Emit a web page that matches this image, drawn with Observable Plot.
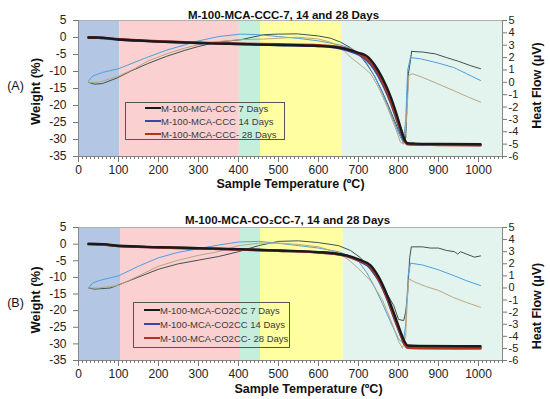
<!DOCTYPE html>
<html>
<head>
<meta charset="utf-8">
<script src="https://cdn.jsdelivr.net/npm/d3@7"></script>
<script src="https://cdn.jsdelivr.net/npm/@observablehq/plot@0.6"></script>
<style>
  html, body { margin: 0; padding: 0; background: #fff; }
  #chart { position: relative; width: 550px; height: 399px; overflow: hidden; font-family: "Liberation Sans", Arial, sans-serif; }
  #chart svg { position: absolute; left: 0; overflow: visible; }
  .legend { position: absolute; border: 1px solid #555; box-sizing: border-box; font-size: 9.5px; color: #3a3a3a; }
  .legend .row { position: absolute; white-space: nowrap; line-height: 12px; }
  .legend .sw { display: inline-block; width: 16px; height: 2px; vertical-align: middle; position: relative; top: -1px; }
</style>
</head>
<body>
<div id="chart"></div>
<script>
// ---------- data ----------
const titles = ["M-100-MCA-CCC-7, 14 and 28 Days", "M-100-MCA-CO\u2082CC-7, 14 and 28 Days"];
const panelLabels = ["(A)", "(B)"];
const legendLabelsA = ["M-100-MCA-CCC 7 Days", "M-100-MCA-CCC 14 Days", "M-100-MCA-CCC- 28 Days"];
const legendLabelsB = ["M-100-MCA-CO2CC 7 Days", "M-100-MCA-CO2CC 14 Days", "M-100-MCA-CO2CC- 28 Days"];
const xTitle = "Sample Temperature (\u00baC)";
const yTitle = "Weight (%)";
const y2Title = "Heat Flow (\u00b5V)";
const xMajorTicks = [0, 100, 200, 300, 400, 500, 600, 700, 800, 900, 1000];
const yTicks = [5, 0, -5, -10, -15, -20, -25, -30, -35];
const y2Ticks = [5, 4, 3, 2, 1, 0, -1, -2, -3, -4, -5, -6];

// temperature bands [start, end]
const bandsA = [[0, 103], [103, 402], [402, 455], [455, 660], [660, 1060]];
const bandsB = [[0, 105], [105, 405], [405, 455], [455, 662], [662, 1060]];
const bandColors = ["#b3c7e5", "#fad0d0", "#c6eedd", "#ffffa2", "#e3f4ee"];

// Panel A: weight (%)
const A_w7 = [[25,0],[50,0],[100,-0.6],[150,-0.9],[200,-1.2],[250,-1.4],[300,-1.6],[350,-1.8],[400,-1.9],[450,-2.1],[500,-2.2],[550,-2.3],[600,-2.5],[640,-2.8],[670,-3.4],[700,-4.5],[720,-5.4],[740,-8.0],[760,-12.0],[780,-17.3],[795,-22.5],[805,-26.4],[815,-29.9],[823,-31.1],[840,-31.2],[900,-31.3],[1005,-31.4]];
const A_w14 = [[25,0],[50,-0.1],[100,-0.6],[200,-1.2],[300,-1.6],[400,-1.9],[500,-2.2],[600,-2.5],[640,-2.9],[670,-3.7],[700,-5.0],[720,-6.6],[740,-9.4],[760,-13.6],[780,-19.0],[795,-24.0],[805,-27.5],[815,-30.5],[822,-31.3],[900,-31.5],[1005,-31.6]];
const A_w28 = [[25,0],[50,-0.1],[100,-0.5],[200,-1.1],[300,-1.5],[400,-1.8],[500,-2.0],[600,-2.3],[640,-2.6],[670,-3.3],[700,-4.7],[720,-6.2],[740,-8.8],[760,-13.0],[780,-18.4],[795,-23.5],[805,-27.0],[815,-30.3],[822,-31.4],[900,-31.6],[1005,-31.7]];
// Panel A: heat flow (µV)
const A_h7 = [[25,0.0],[40,-0.15],[60,-0.1],[97,0.36],[130,0.9],[172,1.5],[220,2.1],[264,2.57],[300,2.9],[347,3.25],[405,3.44],[463,3.85],[500,3.9],[547,3.92],[600,3.75],[630,3.57],[655,3.25],[680,2.8],[700,2.3],[720,1.5],[740,0.5],[760,-0.8],[780,-2.3],[800,-3.9],[812,-4.8],[818,-4.5],[824,0.5],[833,2.5],[860,2.45],[892,2.3],[920,2.0],[950,1.7],[980,1.35],[1005,1.1]];
const A_h14 = [[25,0.1],[35,0.5],[60,0.8],[100,1.1],[170,2.0],[220,2.6],[300,3.35],[350,3.7],[405,3.9],[450,3.85],[500,3.7],[550,3.55],[600,3.35],[650,3.05],[680,2.75],[700,2.35],[720,1.6],[740,0.5],[760,-0.9],[780,-2.5],[800,-4.1],[812,-4.9],[818,-3.1],[823,1.0],[830,2.0],[855,1.9],[900,1.55],[938,1.2],[970,0.7],[1005,0.15]];
const A_h28 = [[25,0.0],[50,0.0],[100,0.5],[140,1.1],[172,1.7],[220,2.3],[264,2.75],[300,3.05],[347,3.3],[405,3.45],[463,3.5],[547,3.65],[600,3.5],[630,3.25],[655,2.85],[680,2.03],[705,1.4],[730,0.7],[750,-0.4],[772,-2.0],[790,-3.5],[805,-4.85],[813,-5.0],[820,-3.0],[826,0.55],[834,0.7],[860,0.4],[897,-0.1],[940,-0.7],[975,-1.2],[1005,-1.6]];
// temperature spans where the panel A heat-flow traces are sparse (drawn dotted)
const A_dottedSpans = [[812, 833], [812, 830], null];

// Panel B: weight (%)
const B_w7 = [[25,0.1],[60,0],[100,-0.5],[200,-0.9],[300,-1.2],[400,-1.5],[450,-1.7],[500,-1.9],[550,-2.1],[600,-2.4],[640,-2.8],[670,-3.4],[700,-4.6],[730,-6.4],[750,-9.8],[772,-15.5],[790,-21.3],[805,-26.3],[815,-29.3],[823,-30.5],[850,-30.6],[1005,-30.7]];
const B_w14 = [[25,0],[60,-0.1],[100,-0.6],[200,-1.0],[300,-1.3],[400,-1.6],[500,-2.0],[600,-2.5],[640,-2.9],[670,-3.6],[700,-5.0],[730,-7.2],[750,-10.8],[772,-16.6],[790,-22.5],[805,-27.2],[815,-30.0],[823,-30.9],[850,-31.0],[1005,-31.1]];
const B_w28 = [[25,0],[60,-0.1],[100,-0.6],[200,-1.0],[300,-1.3],[400,-1.6],[500,-2.0],[600,-2.5],[640,-2.9],[670,-3.5],[700,-4.8],[730,-6.9],[750,-10.4],[772,-16.2],[790,-22.2],[805,-27.0],[815,-30.1],[823,-31.2],[850,-31.3],[1005,-31.4]];
// Panel B: heat flow (µV)
const B_h7 = [[25,0],[40,-0.1],[80,0.0],[100,0.25],[150,0.9],[200,1.55],[250,2.0],[300,2.3],[350,2.6],[400,3.0],[450,3.5],[500,3.85],[550,3.9],[600,3.75],[650,3.5],[680,3.1],[705,2.5],[730,1.5],[750,0.6],[770,-0.4],[788,-1.45],[800,-2.6],[813,-2.7],[818,-2.0],[823,-0.35],[828,2.5],[832,3.4],[860,3.4],[880,3.3],[900,3.3],[920,3.1],[940,3.0],[948,2.8],[955,3.0],[970,2.8],[990,2.55],[1005,2.65]];
const B_h14 = [[25,0],[35,0.4],[50,0.6],[100,1.0],[150,1.8],[200,2.5],[250,2.95],[300,3.25],[350,3.55],[400,3.8],[450,3.85],[500,3.7],[550,3.5],[600,3.3],[650,3.0],[680,2.6],[700,2.2],[720,1.3],[740,0.1],[760,-1.3],[780,-2.8],[800,-4.2],[812,-4.6],[818,-3.0],[824,1.0],[830,2.05],[860,1.9],[900,1.5],[940,1.0],[970,0.6],[1005,0.2]];
const B_h28 = [[25,0],[50,0],[100,0.2],[150,1.0],[200,1.8],[250,2.3],[300,2.7],[350,3.0],[400,3.5],[450,3.7],[500,3.7],[550,3.6],[600,3.4],[650,2.9],[680,2.2],[700,1.6],[730,0.6],[760,-1.0],[780,-2.6],[800,-4.4],[810,-5.0],[818,-4.0],[822,-1.0],[826,0.75],[840,0.5],[870,0.1],[900,-0.2],[938,-0.8],[970,-1.2],[1005,-1.6]];
const B_dottedSpans = [null, null, null];

const weightColors = ["#1a1a1a", "#3b46a6", "#b3331f"];
const heatColors = ["#3e5252", "#4f9fdc", "#bba684"];

// ---------- drawing ----------
const xDomain = [0, 1060];
const yDomain = [-35, 5];
const y2Domain = [-6, 5];
const toW = h => yDomain[0] + (h - y2Domain[0]) * (yDomain[1] - yDomain[0]) / (y2Domain[1] - y2Domain[0]);
const fromW = w => y2Domain[0] + (w - yDomain[0]) * (y2Domain[1] - y2Domain[0]) / (yDomain[1] - yDomain[0]);

function panel(cfg) {
  const bands = cfg.bands.map((b, i) => ({x1: b[0], x2: b[1], fill: bandColors[i]}));
  const marks = [
    Plot.rect(bands, {x1: "x1", x2: "x2", fill: "fill"}),
    Plot.ruleY([yDomain[1]], {stroke: "#b0b0b0"}),
    Plot.ruleX([xDomain[0]], {stroke: "#888"}),
    Plot.ruleX([xDomain[1]], {stroke: "#888"}),
    Plot.ruleY([yDomain[0]], {stroke: "#888"}),
    Plot.axisX(d3.range(0, 1061, 10), {anchor: "bottom", tickSize: 3, text: null, stroke: "#777"}),
    Plot.axisX(xMajorTicks, {anchor: "bottom", tickSize: 6, tickPadding: 3, stroke: "#777", fill: "#222", fontSize: 12, tickFormat: d => String(d)}),
    Plot.axisY(yTicks, {anchor: "left", tickSize: 5, tickPadding: 7, stroke: "#777", fill: "#222", fontSize: 12, tickFormat: d => String(d)}),
    Plot.axisY(y2Ticks.map(toW), {anchor: "right", tickSize: 4, tickPadding: 2, stroke: "#777", fill: "#222", fontSize: 11, tickFormat: d => String(Math.round(fromW(d)))}),
  ];
  cfg.heat.forEach((s, i) => {
    const span = cfg.dotted[i];
    const opts = {x: d => d[0], y: d => toW(d[1]), stroke: heatColors[i], strokeWidth: 1, curve: "linear"};
    if (span) {
      marks.push(Plot.line(s.filter(d => d[0] <= span[0]), opts));
      marks.push(Plot.line(s.filter(d => d[0] >= span[0] && d[0] <= span[1]), {...opts, strokeWidth: 1.2, strokeDasharray: "1.2,1.2"}));
      marks.push(Plot.line(s.filter(d => d[0] >= span[1]), opts));
    } else {
      marks.push(Plot.line(s, opts));
    }
  });
  [1, 2, 0].forEach(i => {
    marks.push(Plot.line(cfg.weight[i], {x: d => d[0], y: d => d[1], stroke: weightColors[i], strokeWidth: 2.4, curve: "monotone-x"}));
  });
  marks.push(
    Plot.text([cfg.title], {frameAnchor: "top", textAnchor: "middle", dy: cfg.titleDy, dx: cfg.titleDx, fontWeight: "bold", fontSize: 11.5, fill: "#111"}),
    Plot.text([xTitle], {frameAnchor: "bottom", textAnchor: "middle", dy: cfg.xTitleDy, dx: cfg.xTitleDx, fontWeight: "bold", fontSize: 12.5, fill: "#111"}),
    Plot.text([yTitle], {frameAnchor: "left", textAnchor: "middle", dx: -43, dy: cfg.yTitleDy, rotate: -90, fontWeight: "bold", fontSize: 13, fill: "#111"}),
    Plot.text([y2Title], {frameAnchor: "right", textAnchor: "middle", dx: 34, dy: cfg.y2TitleDy, rotate: -90, fontWeight: "bold", fontSize: 12.5, fill: "#111"}),
    Plot.text([cfg.label], {frameAnchor: "left", textAnchor: "middle", dx: -63, dy: cfg.labelDy, fontSize: 12.5, fill: "#111"})
  );
  return Plot.plot({
    width: 550,
    height: cfg.height,
    marginLeft: 78,
    marginRight: 48,
    marginTop: cfg.mt,
    marginBottom: cfg.mb,
    x: {domain: xDomain, axis: null},
    y: {domain: yDomain, axis: null},
    style: {fontFamily: "'Liberation Sans', Arial, sans-serif", fontSize: "12px", background: "transparent", overflow: "visible"},
    marks
  });
}

const chart = document.getElementById("chart");
const svgA = panel({bands: bandsA, weight: [A_w7, A_w14, A_w28], heat: [A_h7, A_h14, A_h28], dotted: A_dottedSpans, title: titles[0], label: panelLabels[0],
  height: 200, mt: 20, mb: 44, titleDy: -10, titleDx: -7, xTitleDy: 31, xTitleDx: 0, yTitleDy: 3, y2TitleDy: -3, labelDy: -3});
svgA.style.top = "0px";
chart.appendChild(svgA);
const svgB = panel({bands: bandsB, weight: [B_w7, B_w14, B_w28], heat: [B_h7, B_h14, B_h28], dotted: B_dottedSpans, title: titles[1], label: panelLabels[1],
  height: 199, mt: 27, mb: 39, titleDy: -12, titleDx: -3, xTitleDy: 32, xTitleDx: 18, yTitleDy: 6, y2TitleDy: 12, labelDy: 8.5});
svgB.style.top = "200px";
chart.appendChild(svgB);

function legend(labels, box, rowYs) {
  const div = document.createElement("div");
  div.className = "legend";
  Object.assign(div.style, {left: box[0] + "px", top: box[1] + "px", width: box[2] + "px", height: box[3] + "px"});
  labels.forEach((t, i) => {
    const row = document.createElement("div");
    row.className = "row";
    row.style.top = (rowYs[i] - box[1] - 6) + "px";
    row.style.left = box[4] + "px";
    const sw = document.createElement("span");
    sw.className = "sw";
    sw.style.background = weightColors[i];
    row.appendChild(sw);
    row.appendChild(document.createTextNode(t));
    div.appendChild(row);
  });
  chart.appendChild(div);
}
legend(legendLabelsA, [125, 102, 160, 38, 19], [108, 121, 134]);
legend(legendLabelsB, [133, 302, 157, 46, 10], [310, 324, 338]);
</script>
</body>
</html>
